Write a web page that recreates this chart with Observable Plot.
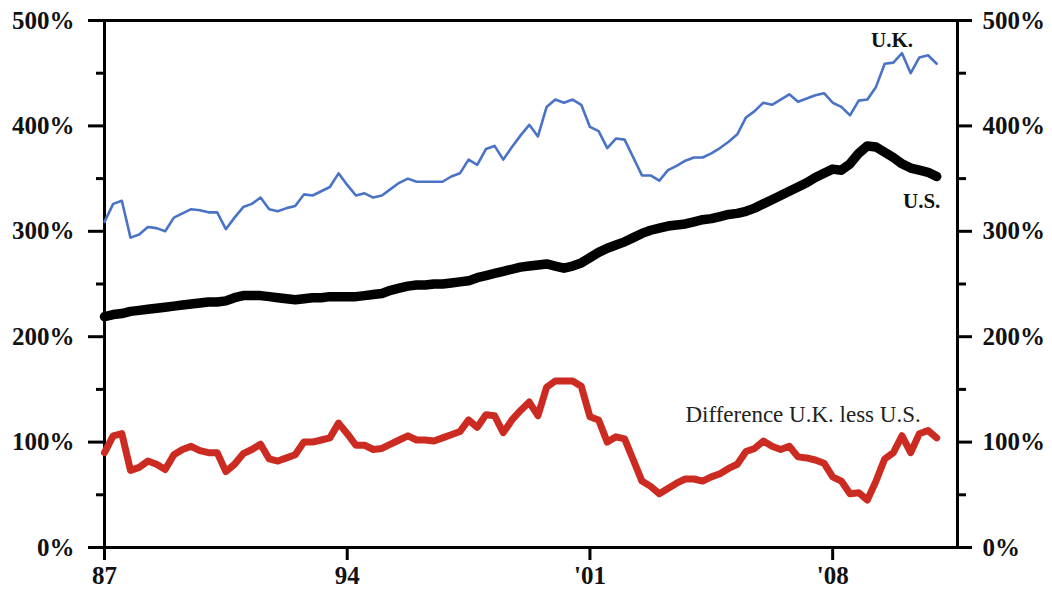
<!DOCTYPE html>
<html>
<head>
<meta charset="utf-8">
<script src="https://cdn.jsdelivr.net/npm/d3@7"></script>
<script src="https://cdn.jsdelivr.net/npm/@observablehq/plot@0.6"></script>
<style>
  html, body { margin: 0; padding: 0; background: #fff; }
  #chart { width: 1052px; height: 592px; }
</style>
</head>
<body>
<div id="chart"></div>
<script>
// Quarterly series, 1987Q1 .. 2011Q1 (percent)
const startYear = 1987;
const ukDebt = [
  309, 326, 329, 294, 297, 304, 303, 300, 313, 317,
  321, 320, 318, 318, 302, 313, 323, 326, 332, 321,
  319, 322, 324, 335, 334, 338, 342, 355, 344, 334,
  336, 332, 334, 340, 346, 350, 347, 347, 347, 347,
  352, 355, 368, 363, 378, 381, 368, 380, 391, 401,
  390, 418, 425, 422, 425, 420, 399, 395, 379, 388,
  387, 370, 353, 353, 348, 358, 362, 367, 370, 370,
  374, 379, 385, 392, 408, 414, 422, 420, 425, 430,
  423, 426, 429, 431, 422, 418, 410, 424, 425, 437,
  459, 460, 469, 450, 465, 467, 459
];
const usDebt = [
  219, 221, 222, 224, 225, 226, 227, 228, 229, 230,
  231, 232, 233, 233, 234, 237, 239, 239, 239, 238,
  237, 236, 235, 236, 237, 237, 238, 238, 238, 238,
  239, 240, 241, 244, 246, 248, 249, 249, 250, 250,
  251, 252, 253, 256, 258, 260, 262, 264, 266, 267,
  268, 269, 267, 265, 267, 270, 275, 280, 284, 287,
  290, 294, 298, 301, 303, 305, 306, 307, 309, 311,
  312, 314, 316, 317, 319, 322, 326, 330, 334, 338,
  342, 346, 351, 355, 359, 358, 364, 374, 381, 380,
  375, 370, 364, 360, 358, 356, 352
];
const diffUkLessUs = [
  90, 106, 108, 73, 76, 82, 79, 74, 88, 93,
  96, 92, 90, 90, 72, 79, 89, 93, 98, 84,
  82, 85, 88, 100, 100, 102, 104, 118, 108, 97,
  97, 93, 94, 98, 102, 106, 102, 102, 101, 104,
  107, 110, 121, 114, 126, 125, 109, 121, 130, 138,
  125, 152, 158, 158, 158, 153, 124, 121, 100, 105,
  103, 83, 63, 58, 51, 56, 61, 65, 65, 63,
  67, 70, 75, 79, 91, 94, 101, 96, 93, 96,
  86, 85, 83, 80, 67, 63, 51, 52, 45, 63,
  84, 90, 106, 90, 108, 111, 104
];
const xTickValues = [1987, 1994, 2001, 2008];
const xTickLabels = ["87", "94", "'01", "'08"];
const yMajorTicks = [0, 100, 200, 300, 400, 500];
const yMinorTicks = [50, 150, 250, 350, 450];

const rows = ukDebt.map((v, i) => ({
  t: startYear + i / 4, uk: v, us: usDebt[i], diff: diffUkLessUs[i]
}));
const last = rows[rows.length - 1];
const ukPeakRow = rows[92];

const serif = "'Liberation Serif', 'Times New Roman', Times, serif";
const pct = d => `${d}%`;

const chart = Plot.plot({
  width: 1052,
  height: 592,
  marginLeft: 104,
  marginRight: 95,
  marginTop: 20,
  marginBottom: 45,
  x: { domain: [1987, 2011.6], axis: null },
  y: { domain: [0, 500], axis: null },
  style: { fontFamily: serif, background: "#fff", color: "#111", overflow: "visible" },
  marks: [
    Plot.frame({ stroke: "#000", strokeWidth: 3 }),
    // left axis
    Plot.axisY({ anchor: "left", ticks: yMajorTicks, tickSize: 16, tickPadding: 14,
      strokeWidth: 3, stroke: "#000", tickFormat: pct, fontSize: 25, fontWeight: "bold", label: null }),
    Plot.axisY({ anchor: "left", ticks: yMinorTicks, tickSize: 8, tickPadding: 0,
      strokeWidth: 3, stroke: "#000", tickFormat: () => "", label: null }),
    // right axis
    Plot.axisY({ anchor: "right", ticks: yMajorTicks, tickSize: 14, tickPadding: 11,
      strokeWidth: 3, stroke: "#000", tickFormat: pct, fontSize: 25, fontWeight: "bold", label: null }),
    Plot.axisY({ anchor: "right", ticks: yMinorTicks, tickSize: 8, tickPadding: 0,
      strokeWidth: 3, stroke: "#000", tickFormat: () => "", label: null }),
    // bottom axis
    Plot.axisX({ anchor: "bottom", ticks: xTickValues, tickSize: 13, tickPadding: 6,
      strokeWidth: 3, stroke: "#000", tickFormat: d => xTickLabels[xTickValues.indexOf(d)],
      fontSize: 25, fontWeight: "bold", label: null }),
    // series
    Plot.line(rows, { x: "t", y: "uk", stroke: "#4a72c6", strokeWidth: 2.6, strokeLinejoin: "round" }),
    Plot.line(rows, { x: "t", y: "us", stroke: "#000", strokeWidth: 9.5, strokeLinejoin: "round", strokeLinecap: "round" }),
    Plot.line(rows, { x: "t", y: "diff", stroke: "#cc2b22", strokeWidth: 7, strokeLinejoin: "round", strokeLinecap: "round" }),
    // labels
    Plot.text([ukPeakRow], { x: "t", y: "uk", text: () => "U.K.", dx: -10, dy: -6, lineAnchor: "bottom",
      fontSize: 21, fontWeight: "bold", fill: "#111" }),
    Plot.text([last], { x: "t", y: "us", text: () => "U.S.", dx: -15, dy: 32, lineAnchor: "bottom",
      fontSize: 21, fontWeight: "bold", fill: "#111" }),
    Plot.text([last], { x: "t", y: "diff", text: () => "Difference U.K. less U.S.", textAnchor: "end",
      dx: -16, dy: -16, lineAnchor: "bottom", fontSize: 23, fill: "#222" })
  ]
});
document.getElementById("chart").appendChild(chart);
</script>
</body>
</html>
